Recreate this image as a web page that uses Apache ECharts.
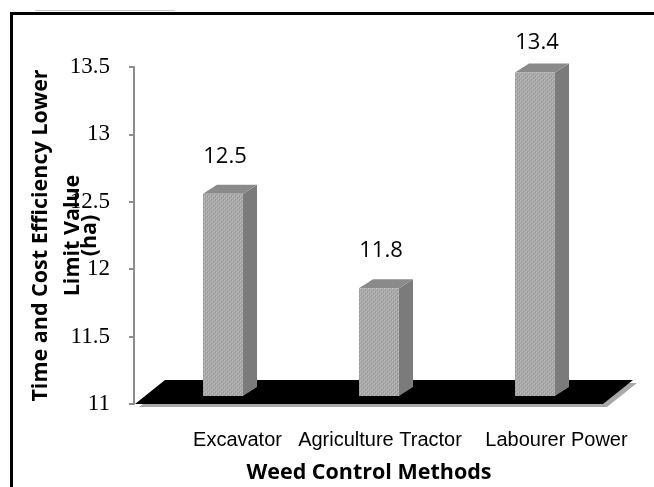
<!DOCTYPE html>
<html>
<head>
<meta charset="utf-8">
<title>Weed Control Methods</title>
<script src="https://cdn.jsdelivr.net/npm/echarts@6/dist/echarts.min.js"></script>
<style>
  html, body { margin: 0; padding: 0; background: #fff; }
  #main { width: 654px; height: 487px; }
</style>
</head>
<body>
<div id="main"></div>
<script>
// values
var methods = ['Excavator', 'Agriculture Tractor', 'Labourer Power'];
var limitValues = [12.5, 11.8, 13.4];
var yMin = 11;
var yMax = 13.5;
var yStep = 0.5;

// small texture for the front faces
var tex = document.createElement('canvas');
tex.width = 4;
tex.height = 4;
var tctx = tex.getContext('2d');
tctx.fillStyle = '#a9a9a9';
tctx.fillRect(0, 0, 4, 4);
tctx.fillStyle = '#b8b8b8';
tctx.fillRect(0, 0, 1, 2);
tctx.fillRect(2, 2, 1, 2);
tctx.fillStyle = '#9a9a9a';
tctx.fillRect(1, 1, 1, 2);
tctx.fillRect(3, 3, 1, 1);
tctx.fillRect(3, 0, 1, 1);

var chart = echarts.init(document.getElementById('main'));

// black 3D floor under the bars
function renderFloor(params, api) {
  var cs = params.coordSys;
  var x0 = cs.x, x1 = cs.x + cs.width, y0 = cs.y + cs.height;
  var dx = 30, dy = -24;
  var pts = [[x0, y0], [x1, y0], [x1 + dx, y0 + dy], [x0 + dx, y0 + dy]];
  var shade = pts.map(function (p) { return [p[0] + 4, p[1] + 3]; });
  return {
    type: 'group',
    children: [
      { type: 'polygon', shape: { points: shade }, style: { fill: '#a8a8a8' } },
      { type: 'polygon', shape: { points: pts }, style: { fill: '#000' } }
    ]
  };
}

// pseudo 3D column
function renderBar(params, api) {
  var c = api.coord([api.value(0), api.value(1)]);
  var base = api.coord([api.value(0), yMin]);
  var cs = params.coordSys;
  var shift = 10, half = 20, lift = 8, sdx = 14, sdy = -9;
  var xl = c[0] + shift - half, xr = c[0] + shift + half;
  var top = c[1] - lift, bot = base[1] - lift;
  var labelY = Math.max(top - 37, cs.y - 24);
  return {
    type: 'group',
    children: [
      { type: 'polygon', shape: { points: [[xr, top], [xr + sdx, top + sdy], [xr + sdx, bot + sdy], [xr, bot]] },
        style: { fill: '#7b7b7b' } },
      { type: 'polygon', shape: { points: [[xl, top], [xr, top], [xr + sdx, top + sdy], [xl + sdx, top + sdy]] },
        style: { fill: '#8a8a8a' } },
      { type: 'rect', shape: { x: xl, y: top, width: xr - xl, height: bot - top },
        style: { fill: { image: tex, repeat: 'repeat' } } },
      { type: 'text', x: c[0] + shift + 2, y: labelY,
        style: { text: String(api.value(1)), fill: '#000', font: '22px "Open Sans"', align: 'center', verticalAlign: 'middle' } }
    ]
  };
}

var option = {
  backgroundColor: '#fff',
  animation: false,
  graphic: [
    { type: 'line', shape: { x1: 11.5, y1: 12, x2: 11.5, y2: 487 }, style: { stroke: '#000', lineWidth: 3 } },
    { type: 'line', shape: { x1: 10, y1: 13.5, x2: 654, y2: 13.5 }, style: { stroke: '#000', lineWidth: 3 } },
    { type: 'line', shape: { x1: 35, y1: 10.5, x2: 175, y2: 10.5 }, style: { stroke: '#c8c8c8', lineWidth: 1 } }
  ],
  grid: { left: 135, right: 51, top: 67, bottom: 83, outerBoundsMode: 'none', containLabel: false },
  xAxis: {
    type: 'category',
    data: methods,
    axisLine: { show: false },
    axisTick: { show: false },
    axisLabel: {
      margin: 26,
      interval: 0,
      hideOverlap: false,
      formatter: function (v, i) { return '{s' + i + '|' + v + '}'; },
      rich: {
        s0: { fontFamily: 'Liberation Sans', fontSize: 20, color: '#000', padding: [0, 0, 0, 49] },
        s1: { fontFamily: 'Liberation Sans', fontSize: 20, color: '#000', padding: [0, 0, 0, 22] },
        s2: { fontFamily: 'Liberation Sans', fontSize: 20, color: '#000', padding: [0, 0, 0, 63] }
      }
    },
    name: 'Weed Control Methods',
    nameLocation: 'middle',
    nameGap: 58,
    nameMoveOverlap: false,
    nameTextStyle: { fontFamily: 'Open Sans', fontWeight: 'bold', fontSize: 21.5, color: '#000' }
  },
  yAxis: {
    type: 'value',
    min: yMin,
    max: yMax,
    interval: yStep,
    offset: 1,
    splitLine: { show: false },
    axisLine: { show: true, lineStyle: { color: '#8c8c8c', width: 2 } },
    axisTick: { show: true, length: 5, lineStyle: { color: '#8c8c8c', width: 2 } },
    axisLabel: { margin: 24, fontFamily: 'Liberation Serif', fontSize: 23, color: '#000' },
    name: '{a|Time and Cost Efficiency Lower}\n{b|Limit Value}\n{b|(ha)}',
    nameLocation: 'middle',
    nameGap: 36,
    nameMoveOverlap: false,
    nameTextStyle: {
      rich: {
        a: { fontFamily: 'Open Sans', fontWeight: 'bold', fontSize: 21.5, color: '#000', lineHeight: 47 },
        b: { fontFamily: 'Open Sans', fontWeight: 'bold', fontSize: 21.5, color: '#000', lineHeight: 17 }
      }
    }
  },
  series: [
    {
      type: 'custom',
      z: 1,
      renderItem: renderFloor,
      data: [[0, yMin]],
      silent: true
    },
    {
      type: 'custom',
      z: 2,
      renderItem: renderBar,
      encode: { x: 0, y: 1 },
      data: limitValues.map(function (v, i) { return [i, v]; })
    }
  ]
};

chart.setOption(option);
</script>
</body>
</html>
